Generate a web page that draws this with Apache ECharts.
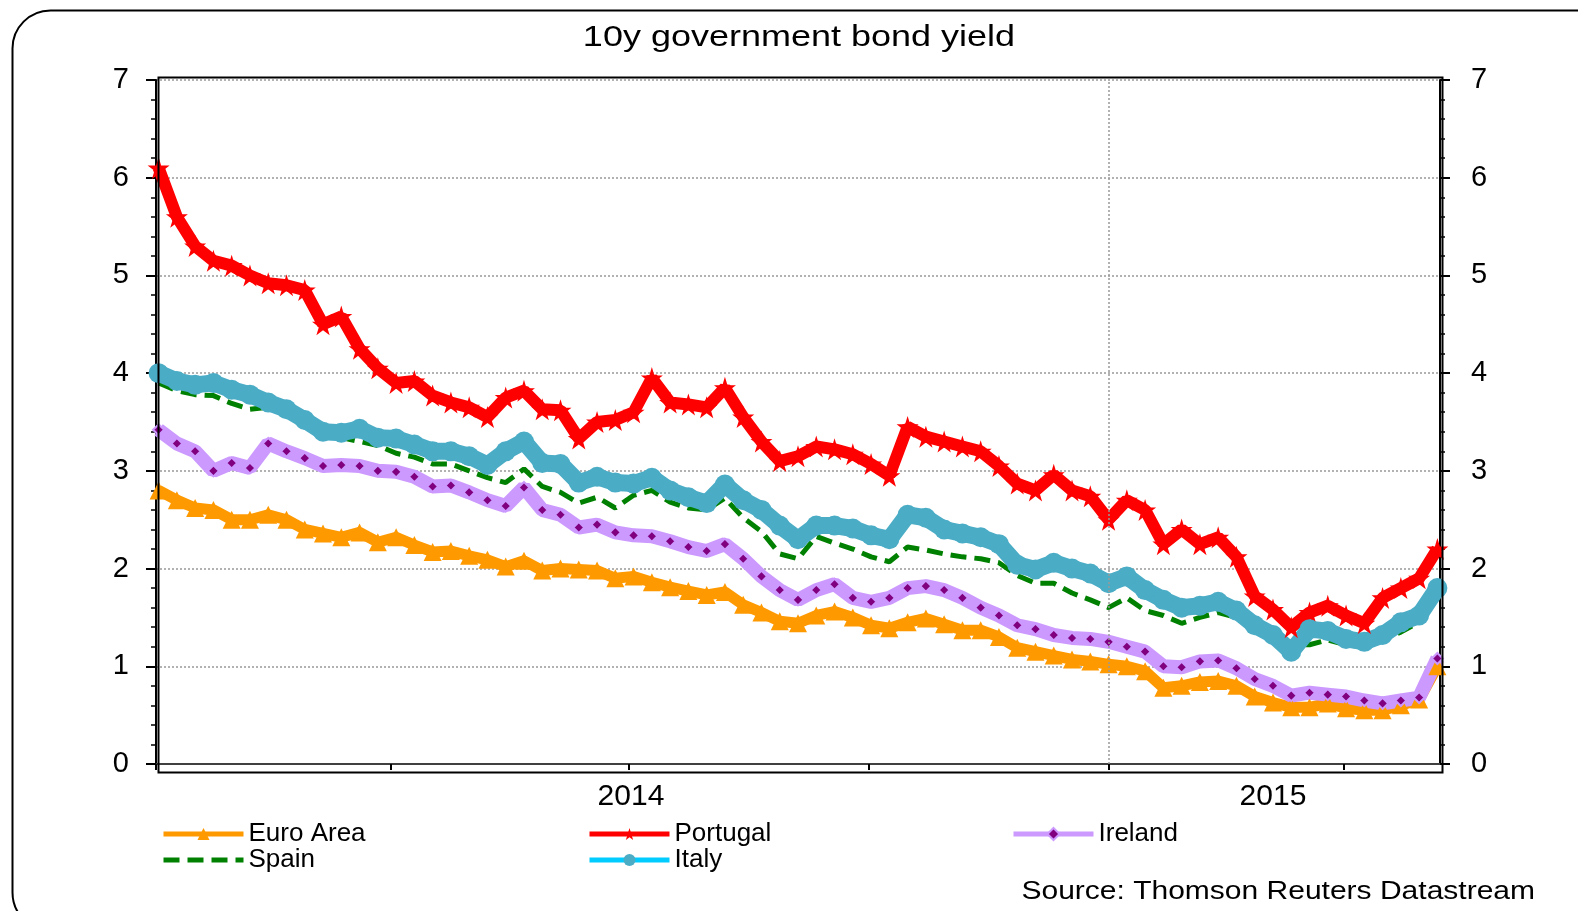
<!DOCTYPE html>
<html>
<head>
<meta charset="utf-8">
<title>10y government bond yield</title>
<script src="https://cdn.jsdelivr.net/npm/echarts@6.0.0/dist/echarts.min.js"></script>
<style>
  html, body { margin: 0; padding: 0; background: #fff; }
  #chart { width: 1578px; height: 911px; }
</style>
</head>
<body>
<div id="chart"></div>
<script>
// weekly readings, Jan 2014 - May 2015
var dates = [
  '2014-01-02','2014-01-09','2014-01-16','2014-01-23','2014-01-30','2014-02-06','2014-02-13','2014-02-20','2014-02-27',
  '2014-03-06','2014-03-13','2014-03-20','2014-03-27','2014-04-03','2014-04-10','2014-04-17','2014-04-24',
  '2014-05-01','2014-05-08','2014-05-15','2014-05-22','2014-05-29','2014-06-05','2014-06-12','2014-06-19','2014-06-26',
  '2014-07-03','2014-07-10','2014-07-17','2014-07-24','2014-07-31','2014-08-07','2014-08-14','2014-08-21','2014-08-28',
  '2014-09-04','2014-09-11','2014-09-18','2014-09-25','2014-10-02','2014-10-09','2014-10-16','2014-10-23','2014-10-30',
  '2014-11-06','2014-11-13','2014-11-20','2014-11-27','2014-12-04','2014-12-11','2014-12-18','2014-12-25',
  '2015-01-01','2015-01-08','2015-01-15','2015-01-22','2015-01-29','2015-02-05','2015-02-12','2015-02-19','2015-02-26',
  '2015-03-05','2015-03-12','2015-03-19','2015-03-26','2015-04-02','2015-04-09','2015-04-16','2015-04-23','2015-04-30',
  '2015-05-07'
];
var euroArea = [
  2.8, 2.7, 2.62, 2.6, 2.5, 2.5, 2.55, 2.5, 2.4, 2.36, 2.32, 2.37, 2.27, 2.32, 2.24, 2.17, 2.18, 2.13,
  2.09, 2.02, 2.08, 1.98, 2.0, 1.99, 1.98, 1.9, 1.92, 1.86, 1.81, 1.77, 1.73, 1.76, 1.63, 1.55, 1.46,
  1.44, 1.52, 1.56, 1.5, 1.42, 1.39, 1.45, 1.49, 1.43, 1.37, 1.37, 1.3, 1.19, 1.15, 1.11, 1.07, 1.05,
  1.02, 1.0, 0.95, 0.78, 0.8, 0.84, 0.85, 0.8, 0.69, 0.63, 0.58, 0.58, 0.62, 0.57, 0.55, 0.55, 0.6, 0.66, 1.0
];
var portugal = [
  6.1, 5.6, 5.3, 5.15, 5.1, 5.0, 4.92, 4.9, 4.85, 4.5, 4.58, 4.25, 4.05, 3.9, 3.92, 3.77, 3.7, 3.65,
  3.55, 3.75, 3.82, 3.63, 3.62, 3.33, 3.5, 3.52, 3.6, 3.95, 3.7, 3.68, 3.65, 3.85, 3.55, 3.3, 3.1,
  3.15, 3.25, 3.22, 3.17, 3.07, 2.95, 3.45, 3.35, 3.3, 3.25, 3.2, 3.05, 2.87, 2.8, 2.96, 2.8, 2.74,
  2.5, 2.7, 2.6, 2.25, 2.4, 2.25, 2.32, 2.12, 1.72, 1.58, 1.4, 1.55, 1.62, 1.52, 1.44, 1.7, 1.8, 1.9, 2.2
];
var ireland = [
  3.42, 3.28, 3.2, 3.0, 3.08, 3.03, 3.28, 3.2, 3.13, 3.05, 3.06, 3.05, 3.0, 2.99, 2.94, 2.84, 2.85, 2.78,
  2.7, 2.64, 2.83, 2.6, 2.55, 2.42, 2.45, 2.37, 2.34, 2.33, 2.28, 2.22, 2.18, 2.25, 2.1, 1.92, 1.78,
  1.68, 1.78, 1.84, 1.7, 1.66, 1.7, 1.8, 1.82, 1.78, 1.7, 1.6, 1.52, 1.42, 1.38, 1.32, 1.29, 1.28,
  1.25, 1.2, 1.15, 1.0, 0.99, 1.05, 1.06, 0.98, 0.87, 0.8, 0.7, 0.73, 0.71, 0.69, 0.65, 0.62, 0.65, 0.68, 1.08
];
var spain = [
  3.9, 3.82, 3.78, 3.77, 3.69, 3.63, 3.65, 3.6, 3.5, 3.38, 3.34, 3.3, 3.26, 3.18, 3.14, 3.07, 3.07, 3.0,
  2.93, 2.88, 3.02, 2.84, 2.78, 2.67, 2.73, 2.62, 2.75, 2.8, 2.68, 2.62, 2.6, 2.72, 2.52, 2.38, 2.15,
  2.1, 2.33, 2.26, 2.2, 2.12, 2.07, 2.22, 2.19, 2.15, 2.12, 2.1, 2.06, 1.93, 1.85, 1.85, 1.75, 1.68,
  1.6, 1.7, 1.57, 1.52, 1.44, 1.5, 1.55, 1.5, 1.4, 1.3, 1.22, 1.22, 1.27, 1.22, 1.2, 1.28, 1.35, 1.45, 1.75
];
var italy = [
  4.0, 3.92, 3.88, 3.9, 3.83, 3.78, 3.7, 3.63, 3.52, 3.4, 3.39, 3.43, 3.34, 3.33, 3.27, 3.2, 3.2, 3.15,
  3.06, 3.2, 3.3, 3.08, 3.07, 2.88, 2.94, 2.88, 2.87, 2.93, 2.8, 2.73, 2.67, 2.86, 2.7, 2.6, 2.44,
  2.3, 2.44, 2.44, 2.41, 2.34, 2.3, 2.55, 2.52, 2.4, 2.36, 2.32, 2.25, 2.04, 1.99, 2.06, 2.0, 1.95,
  1.85, 1.92, 1.78, 1.68, 1.6, 1.62, 1.66, 1.57, 1.42, 1.32, 1.15, 1.38, 1.36, 1.28, 1.25, 1.32, 1.45, 1.52, 1.8
];
var quarterTicks = ['2014-01-01', '2014-04-01', '2014-07-01', '2014-10-01', '2015-01-01', '2015-04-01'];
var yearLabelDates = ['2014-07-02', '2015-03-05'];
var axisStart = '2014-01-01', axisEnd = '2015-05-08', yearLine = '2015-01-01';

function toTime(s) {
  var p = s.split('-');
  return new Date(+p[0], +p[1] - 1, +p[2]).getTime();
}
function pairs(vals) {
  return dates.map(function (d, i) { return [toTime(d), vals[i]]; });
}

var FONT = '"Liberation Sans", Arial, sans-serif';
var STAR = 'path://M50,0 L61,35 L98,35 L68,57 L79,91 L50,70 L21,91 L32,57 L2,35 L39,35 Z';
var chart = echarts.init(document.getElementById('chart'));

var yAxisBase = {
  type: 'value', min: 0, max: 7, interval: 1,
  axisLine: { show: true, lineStyle: { color: '#000', width: 2 } },
  axisTick: { show: true, inside: false, length: 10, lineStyle: { color: '#000', width: 2 } },
  minorTick: { show: true, splitNumber: 5, length: 5, lineStyle: { color: '#000', width: 1.5 } },
  axisLabel: { color: '#000', fontSize: 29, fontFamily: FONT },
  splitLine: { show: false }
};
var legendBase = {
  orient: 'vertical', top: 821, padding: 0, itemGap: 0, itemWidth: 80, itemHeight: 15,
  textStyle: { fontSize: 26, lineHeight: 24, color: '#000', fontFamily: FONT }
};

var option = {
  animation: false,
  backgroundColor: '#fff',
  grid: { left: 156, right: 138, top: 80, bottom: 147, containLabel: false, outerBoundsMode: 'none' },
  legend: [
    Object.assign({}, legendBase, { left: 161, data: [
      { name: 'Euro Area', lineStyle: { width: 5 } },
      { name: 'Spain', lineStyle: { width: 5 }, itemStyle: { opacity: 0 } }
    ] }),
    Object.assign({}, legendBase, { left: 587, data: [
      { name: 'Portugal', lineStyle: { width: 5 } },
      { name: 'Italy', lineStyle: { width: 5, color: '#00ccff' } }
    ] }),
    Object.assign({}, legendBase, { left: 1011, data: [
      { name: 'Ireland', lineStyle: { width: 5 } }
    ] })
  ],
  xAxis: [{
    type: 'value', min: toTime(axisStart), max: toTime(axisEnd), offset: 6,
    axisLine: { show: true, lineStyle: { color: '#000', width: 2 } },
    axisTick: { show: true, length: 6, customValues: quarterTicks.map(toTime), lineStyle: { color: '#000', width: 2 } },
    axisLabel: {
      customValues: yearLabelDates.map(toTime), margin: 12,
      color: '#000', fontSize: 30, fontFamily: FONT,
      formatter: function (v) { return String(new Date(v).getFullYear()); }
    },
    splitLine: { show: false }
  }, {
    type: 'value', position: 'bottom', min: toTime(axisStart), max: toTime(axisEnd),
    axisLine: { show: true, lineStyle: { color: '#555', width: 1.5 } },
    axisTick: { show: false }, axisLabel: { show: false }, splitLine: { show: false }
  }],
  yAxis: [
    Object.assign({}, yAxisBase, {
      position: 'left', axisLabel: Object.assign({}, yAxisBase.axisLabel, { margin: 27 }),
      splitLine: { show: true, lineStyle: { color: '#999', type: [2, 2], width: 1.5 } }
    }),
    Object.assign({}, yAxisBase, {
      position: 'right', axisLabel: Object.assign({}, yAxisBase.axisLabel, { margin: 31 })
    })
  ],
  graphic: [
    { type: 'rect', left: 156, top: 75, silent: true, z: 10,
      shape: { width: 1284, height: 695 }, style: { fill: 'none', stroke: '#000', lineWidth: 2 } },
    { type: 'rect', left: 10, top: 8, silent: true,
      shape: { width: 1620, height: 920, r: 38 }, style: { fill: 'none', stroke: '#000', lineWidth: 2 } },
    { type: 'text', x: 799, y: 38, scaleX: 1.2, silent: true,
      style: { text: '10y government bond yield', fill: '#000', font: '30px ' + FONT,
        textAlign: 'center', textVerticalAlign: 'middle' } },
    { type: 'text', x: 1535, y: 892, scaleX: 1.2, silent: true,
      style: { text: 'Source: Thomson Reuters Datastream', fill: '#000', font: '25px ' + FONT,
        textAlign: 'right', textVerticalAlign: 'middle' } }
  ],
  series: [
    {
      name: 'Euro Area', type: 'line', data: pairs(euroArea), showAllSymbol: true,
      symbol: 'triangle', symbolSize: 18, color: '#ff9900',
      lineStyle: { width: 11, color: '#ff9900' }, itemStyle: { color: '#ff9900' },
      markLine: {
        silent: true, symbol: 'none', label: { show: false },
        lineStyle: { type: [2, 2], color: '#999', width: 1.5 },
        data: [{ xAxis: toTime(yearLine) }]
      }
    },
    {
      name: 'Portugal', type: 'line', data: pairs(portugal), showAllSymbol: true,
      symbol: STAR, symbolSize: 22, color: '#ff0000',
      lineStyle: { width: 12, color: '#ff0000' }, itemStyle: { color: '#ff0000' }
    },
    {
      name: 'Ireland', type: 'line', data: pairs(ireland), showAllSymbol: true,
      symbol: 'diamond', symbolSize: 11, color: '#cc99ff',
      lineStyle: { width: 14, color: '#cc99ff' },
      itemStyle: { color: '#800080', borderColor: '#cc99ff', borderWidth: 2 }
    },
    {
      name: 'Spain', type: 'line', data: pairs(spain), symbol: 'none', color: '#008000',
      lineStyle: { width: 5, color: '#008000', type: [16, 8] }
    },
    {
      name: 'Italy', type: 'line', data: pairs(italy), showAllSymbol: true,
      symbol: 'circle', symbolSize: 20, color: '#4bacc6',
      lineStyle: { width: 17, color: '#4bacc6' }, itemStyle: { color: '#4bacc6' }
    }
  ]
};
chart.setOption(option);
</script>
</body>
</html>
